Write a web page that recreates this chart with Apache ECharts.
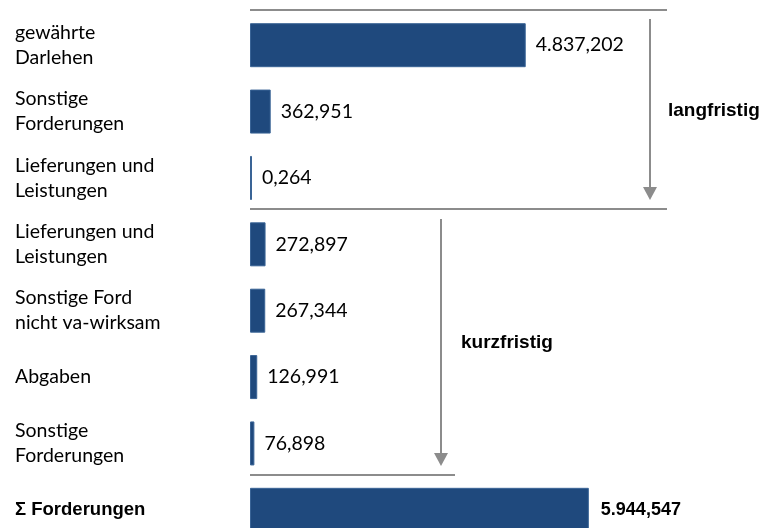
<!DOCTYPE html>
<html>
<head>
<meta charset="utf-8">
<script src="https://cdn.jsdelivr.net/npm/echarts@6/dist/echarts.min.js"></script>
<style>
  html, body { margin: 0; padding: 0; background: #fff; }
  #chart { width: 773px; height: 528px; }
</style>
</head>
<body>
<div id="chart"></div>
<script>
// Kategorien (von oben nach unten)
let categories = [
  "gewährte\nDarlehen",
  "Sonstige\nForderungen",
  "Lieferungen und\nLeistungen",
  "Lieferungen und\nLeistungen",
  "Sonstige Ford\nnicht va-wirksam",
  "Abgaben",
  "Sonstige\nForderungen",
  "Σ Forderungen"
];
let values = [4837.202, 362.951, 0.264, 272.897, 267.344, 126.991, 76.898, 5944.547];
let valueLabels = ["4.837,202", "362,951", "0,264", "272,897", "267,344", "126,991", "76,898", "5.944,547"];
let groupLabels = ["langfristig", "kurzfristig"];

const gray = "#8c8c8c";
const barColor = "#1f497d";

window.onload = function () {
  var myChart = echarts.init(document.getElementById("chart"));
  var last = values.length - 1;

  option = {
    animation: false,
    grid: { left: 250, top: 12, height: 531, right: 124, outerBoundsMode: "none", containLabel: false },
    xAxis: {
      type: "value",
      min: 0,
      max: 7000,
      show: false
    },
    yAxis: {
      type: "category",
      inverse: true,
      data: categories,
      axisLine: { show: false },
      axisTick: { show: false },
      axisLabel: {
        align: "left",
        margin: 235,
        fontFamily: "Lato",
        fontSize: 19.5,
        lineHeight: 25,
        color: "#000",
        formatter: function (v, i) {
          return i === last ? "{b|" + v + "}" : v;
        },
        rich: {
          b: { fontFamily: "Liberation Sans", fontWeight: "bold", fontSize: 18.5, color: "#000" }
        }
      }
    },
    series: [
      {
        type: "bar",
        barWidth: 44,
        barMinHeight: 2,
        itemStyle: { color: barColor, borderColor: "#3a6496", borderWidth: 1 },
        data: values.map(function (v, i) {
          var d = { value: v };
          if (i === last) {
            d.label = { fontFamily: "Liberation Sans", fontWeight: "bold", fontSize: 18, distance: 12 };
          }
          return d;
        }),
        label: {
          show: true,
          position: "right",
          distance: 10,
          fontFamily: "Lato",
          fontSize: 19.5,
          color: "#000",
          formatter: function (p) { return valueLabels[p.dataIndex]; }
        }
      }
    ],
    graphic: [
      { type: "line", shape: { x1: 250, y1: 10, x2: 667, y2: 10 }, style: { stroke: gray, lineWidth: 2 } },
      { type: "line", shape: { x1: 250, y1: 209, x2: 667, y2: 209 }, style: { stroke: gray, lineWidth: 2 } },
      { type: "line", shape: { x1: 250, y1: 475, x2: 455, y2: 475 }, style: { stroke: gray, lineWidth: 2 } },
      { type: "line", shape: { x1: 650, y1: 19, x2: 650, y2: 190 }, style: { stroke: gray, lineWidth: 2 } },
      { type: "polygon", shape: { points: [[643, 187], [657, 187], [650, 200]] }, style: { fill: gray } },
      { type: "line", shape: { x1: 441, y1: 219, x2: 441, y2: 456 }, style: { stroke: gray, lineWidth: 2 } },
      { type: "polygon", shape: { points: [[434, 453], [448, 453], [441, 466]] }, style: { fill: gray } },
      {
        type: "text", x: 668, y: 111,
        style: { text: groupLabels[0], fontFamily: "Liberation Sans", fontWeight: "bold", fontSize: 19, fill: "#000", verticalAlign: "middle" }
      },
      {
        type: "text", x: 461, y: 343,
        style: { text: groupLabels[1], fontFamily: "Liberation Sans", fontWeight: "bold", fontSize: 19, fill: "#000", verticalAlign: "middle" }
      }
    ]
  };
  myChart.setOption(option);
};
</script>
</body>
</html>
